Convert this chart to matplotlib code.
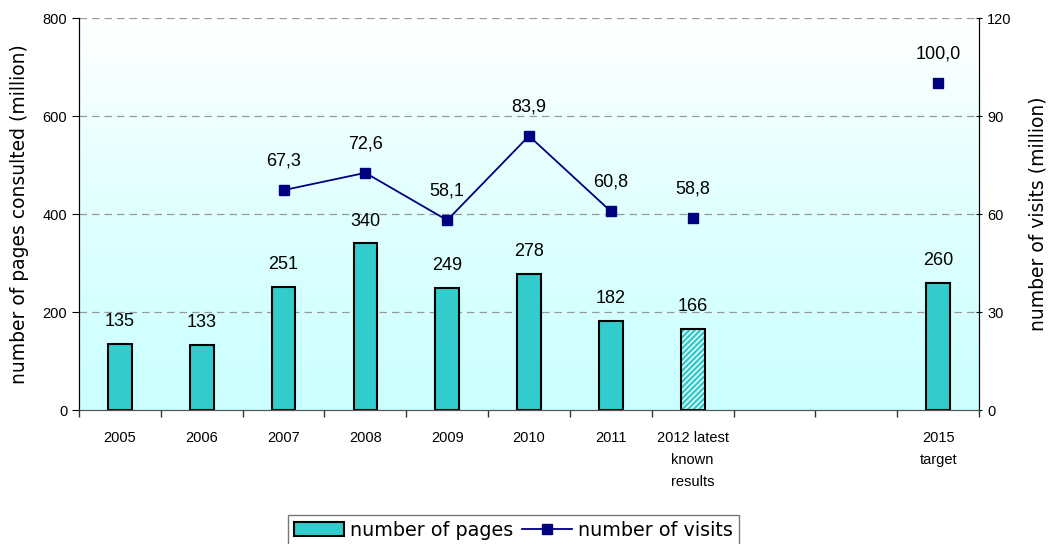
import matplotlib.pyplot as plt
import numpy as np
from matplotlib.patches import Patch
from matplotlib.lines import Line2D

# categories (two empty slots for 2013/2014)
labels = ["2005", "2006", "2007", "2008", "2009", "2010", "2011",
          "2012 latest\nknown\nresults", "", "", "2015\ntarget"]
pages = [135, 133, 251, 340, 249, 278, 182, 166, None, None, 260]
visits = [None, None, 67.3, 72.6, 58.1, 83.9, 60.8, 58.8, None, None, 100.0]
visit_labels = ["", "", "67,3", "72,6", "58,1", "83,9", "60,8", "58,8", "", "", "100,0"]

bar_col = "#33CCCC"
line_col = "#000080"
arial = "Liberation Sans"

fig = plt.figure(figsize=(10.52, 5.44), dpi=100)
ax = fig.add_axes([79 / 1052, 1 - 410 / 544, 900 / 1052, 392 / 544])
ax2 = ax.twinx()

n = len(labels)
x = np.arange(n)

# background gradient: light cyan at bottom -> white at top
grad = np.linspace(0, 1, 256).reshape(-1, 1, 1)
bot = np.array([0.8, 1.0, 1.0])
top = np.array([1.0, 1.0, 1.0])
img = bot + (top - bot) * grad ** 1.3
ax.imshow(img, extent=[-0.5, n - 0.5, 0, 800], origin="lower", aspect="auto", zorder=0)
ax.set_xlim(-0.5, n - 0.5)
ax.set_ylim(0, 800)
ax2.set_ylim(0, 120)

for v in [200, 400, 600, 800]:
    ax.axhline(v, color="#999999", ls=(0, (6, 4)), lw=0.9, zorder=1)

w = 0.29
for i, p in enumerate(pages):
    if p is None:
        continue
    if i == 7:
        ax.bar(x[i], p, w, color=bar_col, edgecolor="white", hatch="//////", lw=0, zorder=2)
        ax.bar(x[i], p, w, fill=False, edgecolor="black", lw=1.5, zorder=3)
    else:
        ax.bar(x[i], p, w, color=bar_col, edgecolor="black", lw=1.5, zorder=2)
    ax.annotate(str(p), (x[i], p), xytext=(0, 10), textcoords="offset points",
                ha="center", va="bottom", fontsize=13, family=arial)

# line 2007-2011 connected, 2012 and 2015 separate points
ax2.plot(x[2:7], visits[2:7], color=line_col, lw=1.3, marker="s", ms=7, zorder=4)
ax2.plot([x[7], x[10]], [visits[7], visits[10]], ls="none", color=line_col,
         marker="s", ms=7, zorder=4)
for i, v in enumerate(visits):
    if v is None:
        continue
    ax2.annotate(visit_labels[i], (x[i], v), xytext=(0, 15), textcoords="offset points",
                 ha="center", va="bottom", fontsize=13, family=arial)

ax.set_xticks(x)
ax.set_xticklabels(labels, fontsize=10.5, linespacing=1.75, va="top", family=arial)
ax.set_xticks(np.arange(-0.5, n), minor=True)
ax.tick_params(axis="x", which="major", length=0, pad=15)
ax.tick_params(axis="x", which="minor", length=5, width=1, color="#333333")
ax.set_yticks([0, 200, 400, 600, 800])
ax.tick_params(axis="y", labelsize=10.5, length=5)
ax2.set_yticks([0, 30, 60, 90, 120])
ax2.tick_params(axis="y", labelsize=10.5, length=5, direction="inout")
for lab in ax.get_yticklabels() + ax2.get_yticklabels():
    lab.set_family(arial)

for a in (ax, ax2):
    a.spines["top"].set_visible(False)
    a.spines["left"].set_color("black")
    a.spines["right"].set_color("black")
    a.spines["bottom"].set_color("#555555")

ax.set_ylabel("number of pages consulted (million)", fontsize=13.5, labelpad=10)
ax2.set_ylabel("number of visits (million)", fontsize=13.5, labelpad=12)

handles = [Patch(facecolor=bar_col, edgecolor="black", lw=1.5),
           Line2D([], [], color=line_col, marker="s", ms=7, lw=1.3)]
leg = fig.legend(handles, ["number of pages", "number of visits"], loc="lower center",
                 bbox_to_anchor=(0.488, -0.02), ncol=2, fontsize=13.8, frameon=True,
                 fancybox=False, edgecolor="#555555", handlelength=2.6,
                 handletextpad=0.3, columnspacing=0.5, borderpad=0.3)
leg.get_frame().set_linewidth(1.0)

fig.savefig("out.png", dpi=100)
